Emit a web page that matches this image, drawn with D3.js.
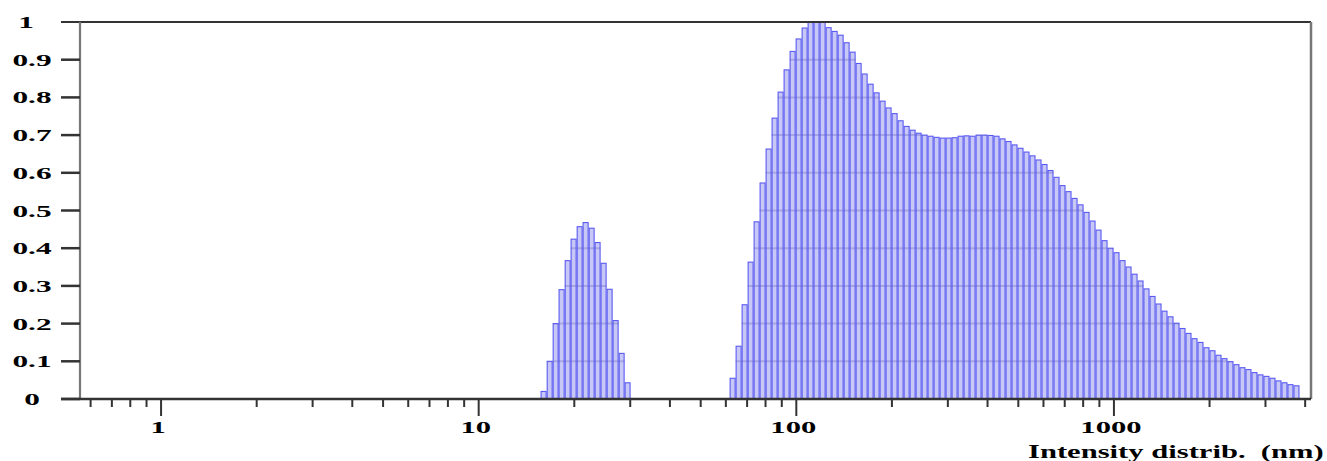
<!DOCTYPE html>
<html><head><meta charset="utf-8">
<script src="https://cdn.jsdelivr.net/npm/d3@7"></script>
<style>body{margin:0;background:#fff;} svg{display:block;}</style>
</head><body>
<svg id="c" width="1327" height="461"></svg>
<script>
// ---- data ----
const sizesSmall = [16.01, 16.73, 17.47, 18.24, 19.06, 19.90, 20.79, 21.71, 22.68, 23.68, 24.73, 25.84, 26.98, 28.19, 29.43];
const valuesSmall = [0.02, 0.10, 0.20, 0.29, 0.367, 0.424, 0.457, 0.468, 0.453, 0.415, 0.36, 0.291, 0.208, 0.121, 0.043];
const sizesMain = [63.02, 65.82, 68.75, 71.81, 74.99, 78.32, 81.80, 85.44, 89.24, 93.21,
  97.36, 101.7, 106.2, 110.9, 115.8, 121.0, 126.4, 132.0, 137.9, 144.0,
  150.4, 157.1, 164.1, 171.4, 179.0, 186.9, 195.2, 203.9, 213.0, 222.5,
  232.4, 242.7, 253.5, 264.7, 276.5, 288.8, 301.6, 315.0, 329.0, 343.6,
  358.8, 374.8, 391.4, 408.8, 427.0, 445.9, 465.8, 486.4, 508.0, 530.6,
  554.2, 578.8, 604.5, 631.4, 659.5, 688.7, 719.3, 751.6, 785.0, 819.9,
  856.3, 894.4, 934.1, 975.7, 1019, 1064, 1112, 1161, 1213, 1266,
  1323, 1382, 1443, 1507, 1574, 1644, 1717, 1793, 1873, 1956,
  2043, 2134, 2229, 2328, 2431, 2539, 2652, 2770, 2893, 3021,
  3156, 3296, 3443, 3596, 3756];
const valuesMain = [0.055, 0.14, 0.25, 0.363, 0.47, 0.573, 0.663, 0.745, 0.814, 0.873,
  0.922, 0.955, 0.984, 0.999, 1.0, 1.0, 0.985, 0.975, 0.965, 0.945,
  0.92, 0.89, 0.862, 0.835, 0.812, 0.79, 0.772, 0.757, 0.738, 0.723,
  0.713, 0.705, 0.700, 0.697, 0.694, 0.692, 0.692, 0.693, 0.697, 0.698,
  0.697, 0.700, 0.700, 0.699, 0.697, 0.690, 0.683, 0.674, 0.665, 0.655,
  0.645, 0.634, 0.622, 0.606, 0.588, 0.566, 0.55, 0.532, 0.515, 0.495,
  0.472, 0.448, 0.42, 0.40, 0.388, 0.367, 0.35, 0.331, 0.313, 0.292,
  0.272, 0.252, 0.233, 0.218, 0.201, 0.187, 0.174, 0.16, 0.15, 0.136,
  0.128, 0.116, 0.107, 0.099, 0.091, 0.083, 0.078, 0.07, 0.064, 0.06,
  0.055, 0.048, 0.043, 0.038, 0.035];
const yTicks = [0, 0.1, 0.2, 0.3, 0.4, 0.5, 0.6, 0.7, 0.8, 0.9, 1];
const yTickLabels = ["0", "0.1", "0.2", "0.3", "0.4", "0.5", "0.6", "0.7", "0.8", "0.9", "1"];
const xMajorTicks = [1, 10, 100, 1000];
const xMajorLabels = ["1", "10", "100", "1000"];
const xMinorTicks = [0.6, 0.7, 0.8, 0.9, 2, 3, 4, 5, 6, 7, 8, 9, 20, 30, 40, 50, 60, 70, 80, 90,
  200, 300, 400, 500, 600, 700, 800, 900, 2000, 3000, 4000];
const xTitle = "Intensity distrib.  (nm)";

// ---- layout ----
const L = 80, R = 1311, T = 22, B = 399;
const svg = d3.select("#c");
const x = d3.scaleLog().domain([0.5556, 4173]).range([L, R]);
const y = d3.scaleLinear().domain([0, 1]).range([B, T]);

const bars = sizesSmall.map((d, i) => ({ s: d, v: valuesSmall[i], arr: sizesSmall, i }))
  .concat(sizesMain.map((d, i) => ({ s: d, v: valuesMain[i], arr: sizesMain, i })));
function halfRatio(b) {
  const a = b.arr, i = b.i;
  const r = i < a.length - 1 ? a[i + 1] / a[i] : a[i] / a[i - 1];
  return Math.sqrt(r);
}
bars.forEach(b => { const h = halfRatio(b); b.x0 = x(b.s / h); b.x1 = x(b.s * h); });

// clip path of bars for gridlines
const defs = svg.append("defs");
const cp = defs.append("clipPath").attr("id", "barclip");
cp.selectAll("rect").data(bars).join("rect")
  .attr("x", d => d.x0).attr("width", d => d.x1 - d.x0)
  .attr("y", d => y(d.v)).attr("height", d => y(0) - y(d.v));

// bars
svg.append("g").selectAll("rect").data(bars).join("rect")
  .attr("x", d => d.x0 + 0.5).attr("width", d => d.x1 - d.x0 - 1)
  .attr("y", d => y(d.v)).attr("height", d => y(0) - y(d.v))
  .attr("fill", "#c8c8f6").attr("stroke", "#5a5af2").attr("stroke-width", 1.1);

// gridlines inside bars
svg.append("g").attr("clip-path", "url(#barclip)").selectAll("line")
  .data(yTicks.slice(1, -1)).join("line")
  .attr("x1", L).attr("x2", R).attr("y1", d => y(d)).attr("y2", d => y(d))
  .attr("stroke", "#5a5ac0").attr("stroke-opacity", 0.3).attr("stroke-width", 2);

// frame
svg.append("line").attr("x1", 61).attr("x2", R).attr("y1", T).attr("y2", T)
  .attr("stroke", "#333").attr("stroke-width", 2.2);
svg.append("line").attr("x1", R).attr("x2", R).attr("y1", T).attr("y2", B)
  .attr("stroke", "#777").attr("stroke-width", 2.5);
svg.append("line").attr("x1", L).attr("x2", L).attr("y1", T).attr("y2", B)
  .attr("stroke", "#777").attr("stroke-width", 2.2);
svg.append("line").attr("x1", 61).attr("x2", R).attr("y1", B).attr("y2", B)
  .attr("stroke", "#333").attr("stroke-width", 2.4);

// y ticks
svg.append("g").selectAll("line").data(yTicks.slice(0, -1)).join("line")
  .attr("x1", 61).attr("x2", L).attr("y1", d => y(d)).attr("y2", d => y(d))
  .attr("stroke", "#333").attr("stroke-width", 2.5);

const font = "'Liberation Serif', 'Times New Roman', serif";
svg.append("g").selectAll("text").data(yTicks).join("text")
  .attr("transform", d => `translate(${d === 1 ? 26 : 32},${y(d) + 6}) scale(1.9,1)`)
  .attr("text-anchor", "middle")
  .attr("font-family", font).attr("font-weight", "bold").attr("font-size", 16.5)
  .attr("fill", "#000")
  .text((d, i) => yTickLabels[i]);

// x ticks
svg.append("g").selectAll("line").data(xMajorTicks).join("line")
  .attr("x1", d => x(d)).attr("x2", d => x(d)).attr("y1", B).attr("y2", 416)
  .attr("stroke", "#333").attr("stroke-width", 2);
svg.append("g").selectAll("line").data(xMinorTicks).join("line")
  .attr("x1", d => x(d)).attr("x2", d => x(d)).attr("y1", B).attr("y2", 407)
  .attr("stroke", "#333").attr("stroke-width", 2);
svg.append("g").selectAll("text").data(xMajorTicks).join("text")
  .attr("transform", d => `translate(${x(d) - 3},433) scale(1.8,1)`)
  .attr("text-anchor", "middle")
  .attr("font-family", font).attr("font-weight", "bold").attr("font-size", 17)
  .attr("fill", "#000")
  .text((d, i) => xMajorLabels[i]);

// x title
svg.append("text")
  .attr("transform", "translate(1028,458) scale(1.7,1)")
  .attr("font-family", font).attr("font-weight", "bold").attr("font-size", 18)
  .style("white-space", "pre").attr("fill", "#000")
  .text(xTitle);
</script>
</body></html>
